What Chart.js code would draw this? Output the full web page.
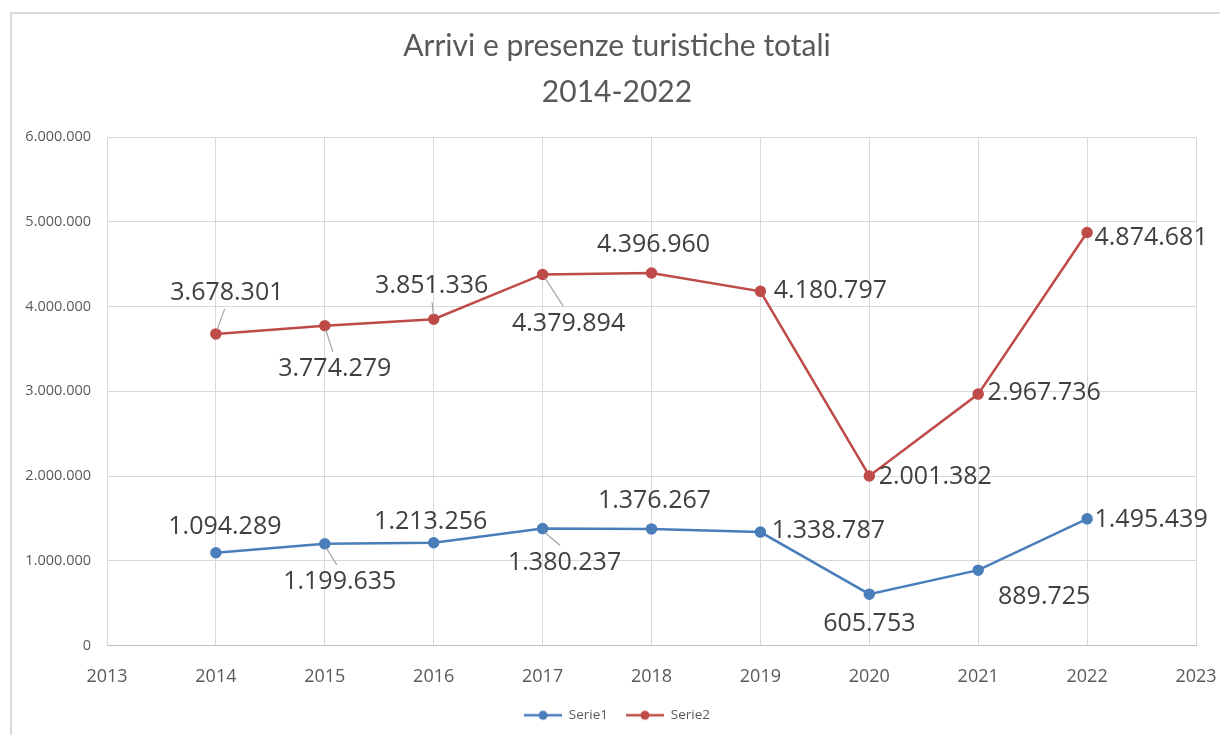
<!DOCTYPE html>
<html>
<head>
<meta charset="utf-8">
<script src="https://cdn.jsdelivr.net/npm/chart.js@4/dist/chart.umd.min.js"></script>
<style>
  html, body { margin: 0; padding: 0; background: #fff; }
  #frame { position: absolute; left: 10px; top: 12px; width: 1220px; height: 735px;
           border-left: 2px solid #d9d9d9; border-top: 2px solid #d9d9d9; }
  #wrap { position: absolute; left: 0; top: 0; width: 1220px; height: 735px; }
</style>
</head>
<body>
<div id="frame"></div>
<div id="wrap"><canvas id="chart"></canvas></div>
<script>
// Dati
const anni = [2014, 2015, 2016, 2017, 2018, 2019, 2020, 2021, 2022];
const serie1 = [1094289, 1199635, 1213256, 1380237, 1376267, 1338787, 605753, 889725, 1495439];
const serie2 = [3678301, 3774279, 3851336, 4379894, 4396960, 4180797, 2001382, 2967736, 4874681];
const titolo = ['Arrivi e presenze turistiche totali', '2014-2022'];
const nomiSerie = ['Serie1', 'Serie2'];

// Posizione delle etichette (spostamento in px rispetto al punto) e linee guida
const etichette1 = [[9, -26, 0], [15, 38, 1], [-3, -21, 0], [22, 34, 1], [3, -28, 0], [68, -1, 0], [0, 30, 0], [66, 27, 0], [64, 1, 0]];
const etichette2 = [[11, -41, 1], [10, 43, 1], [-2, -33, 1], [26, 49, 1], [2, -28, 0], [70, 0, 0], [66, 1, 0], [66, -1, 0], [64, 5, 0]];

const fmt = v => Math.round(v).toString().replace(/\B(?=(\d{3})+(?!\d))/g, '.');
const grigio = '#595959';

// Simbolo legenda: linea con punto
function simbolo(colore) {
  const c = document.createElement('canvas');
  c.width = 38; c.height = 12;
  const g = c.getContext('2d');
  g.strokeStyle = colore; g.lineWidth = 2.5;
  g.beginPath(); g.moveTo(0, 6); g.lineTo(38, 6); g.stroke();
  g.fillStyle = colore;
  g.beginPath(); g.arc(19, 6, 4.5, 0, Math.PI * 2); g.fill();
  return c;
}

// Plugin etichette dati
const etichettePlugin = {
  id: 'etichette',
  afterDatasetsDraw(chart) {
    const ctx = chart.ctx;
    const pos = [etichette1, etichette2];
    ctx.save();
    ctx.font = '25px "Open Sans"';
    ctx.textAlign = 'center';
    ctx.textBaseline = 'middle';
    chart.data.datasets.forEach((ds, d) => {
      const meta = chart.getDatasetMeta(d);
      meta.data.forEach((pt, i) => {
        const [dx, dy, guida] = pos[d][i];
        const tx = pt.x + dx, ty = pt.y + dy;
        if (guida) {
          // linea guida dal punto verso l'etichetta
          const sy = dy < 0 ? ty + 16 : ty - 17;
          ctx.strokeStyle = '#a6a6a6';
          ctx.lineWidth = 1.2;
          ctx.beginPath();
          ctx.moveTo(pt.x + (tx - pt.x) * 0.1, pt.y + (dy < 0 ? -4 : 4));
          ctx.lineTo(pt.x + (tx - pt.x) * 0.8, sy);
          ctx.stroke();
        }
        ctx.fillStyle = '#404040';
        ctx.fillText(fmt(ds.data[i].y), tx, ty);
      });
    });
    ctx.restore();
  }
};

const ctx = document.getElementById('chart').getContext('2d');
const chart = new Chart(ctx, {
  type: 'line',
  data: {
    datasets: [
      {
        label: nomiSerie[0],
        data: anni.map((a, i) => ({ x: a, y: serie1[i] })),
        borderColor: '#4a7ebb',
        backgroundColor: '#4a7ebb',
        borderWidth: 2.5,
        pointRadius: 4.5,
        pointHoverRadius: 4.5,
        tension: 0
      },
      {
        label: nomiSerie[1],
        data: anni.map((a, i) => ({ x: a, y: serie2[i] })),
        borderColor: '#be4b48',
        backgroundColor: '#be4b48',
        borderWidth: 2.5,
        pointRadius: 4.5,
        pointHoverRadius: 4.5,
        tension: 0
      }
    ]
  },
  options: {
    responsive: true,
    maintainAspectRatio: false,
    animation: false,
    layout: { padding: { left: 14, right: 0, top: 20, bottom: 3 } },
    scales: {
      x: {
        type: 'linear',
        min: 2013,
        max: 2023,
        ticks: {
          stepSize: 1,
          color: grigio,
          font: { family: 'Open Sans', size: 18 },
          callback: v => String(v),
          padding: 21,
          maxRotation: 0,
          minRotation: 0
        },
        grid: { color: '#d9d9d9', lineWidth: 1, drawTicks: false },
        border: { color: '#bfbfbf' },
        afterFit: s => { s.height = 45; s.paddingRight = 24; s.paddingLeft = 0; }
      },
      y: {
        min: 0,
        max: 6000000,
        ticks: {
          stepSize: 1000000,
          color: grigio,
          font: { family: 'Open Sans', size: 14.5 },
          callback: v => fmt(v),
          padding: 16
        },
        grid: { color: '#d9d9d9', lineWidth: 1, drawTicks: false },
        border: { color: '#d9d9d9' },
        afterFit: s => { s.width = 93; }
      }
    },
    plugins: {
      title: {
        display: true,
        text: titolo,
        color: grigio,
        font: { family: 'Lato', size: 30, weight: 'normal', lineHeight: 1.52 },
        padding: { top: 4, bottom: 22 }
      },
      legend: {
        position: 'bottom',
        labels: {
          color: grigio,
          font: { family: 'Open Sans', size: 13.5 },
          usePointStyle: true,
          pointStyleWidth: 38,
          boxHeight: 12,
          padding: 18,
          generateLabels: c => c.data.datasets.map((ds, i) => ({
            text: ds.label,
            pointStyle: simbolo(ds.borderColor),
            fontColor: grigio,
            strokeStyle: ds.borderColor,
            fillStyle: ds.borderColor,
            lineWidth: 0,
            datasetIndex: i
          }))
        }
      },
      tooltip: { enabled: false }
    }
  },
  plugins: [etichettePlugin]
});
</script>
</body>
</html>
